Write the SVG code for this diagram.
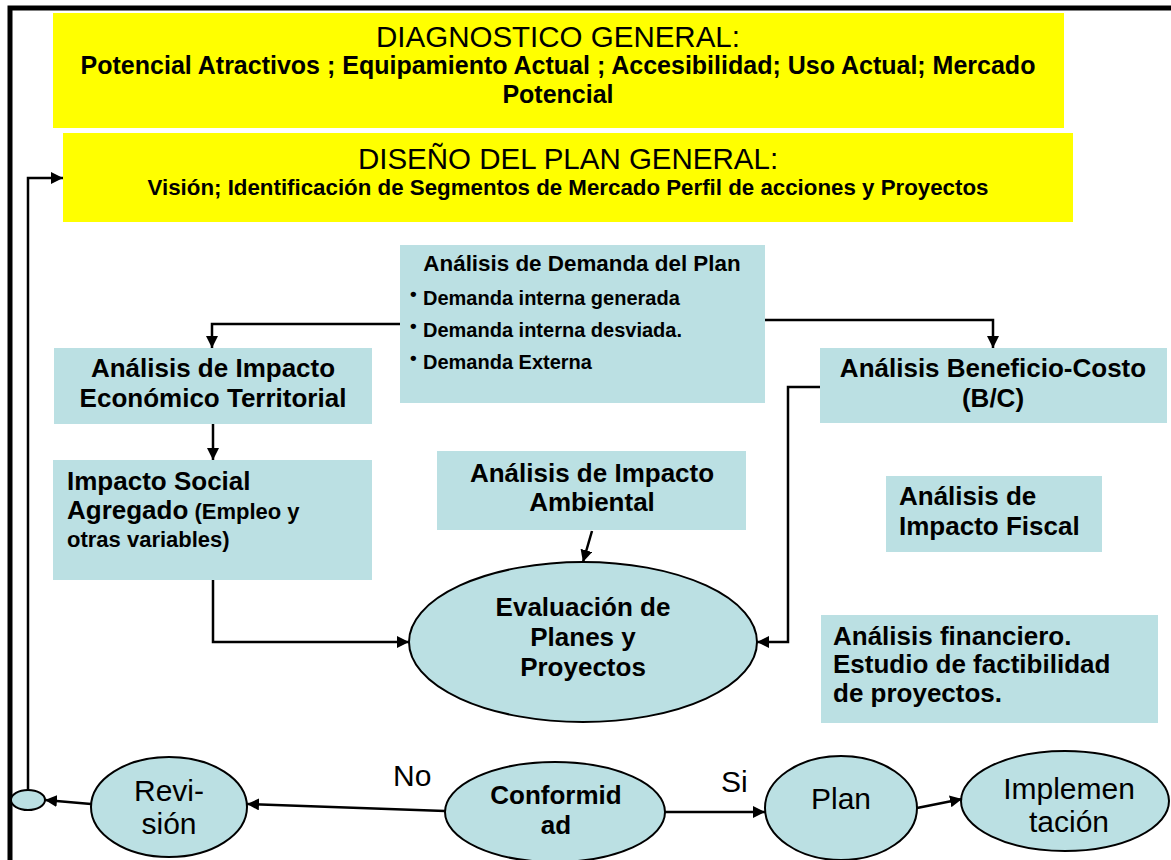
<svg xmlns="http://www.w3.org/2000/svg" width="1171" height="860" viewBox="0 0 1171 860">
<style>
text{font-family:"Liberation Sans",Arial,sans-serif;fill:#000}
.b{font-weight:bold}
.box{fill:#BBE0E3;stroke:none}
.ell{fill:#BBE0E3;stroke:#000;stroke-width:2}
.yel{fill:#FFFF00;stroke:none}
.c{fill:none;stroke:#000;stroke-width:2.5}
.m{text-anchor:middle}
</style>
<defs>
<marker id="ah" viewBox="0 0 10 10" refX="10" refY="5" markerWidth="12" markerHeight="12" markerUnits="userSpaceOnUse" orient="auto">
<path d="M0,0 L10,5 L0,10 z" fill="#000"/>
</marker>
</defs>
<rect x="10" y="8" width="1200" height="900" fill="#fff" stroke="#000" stroke-width="5"/>

<g id="diagnostico">
<rect class="yel" x="53" y="13" width="1011" height="115"/>
<text class="m" x="558" y="47" font-size="29.5">DIAGNOSTICO GENERAL:</text>
<text class="m b" x="558" y="74" font-size="25">Potencial Atractivos ; Equipamiento Actual ; Accesibilidad; Uso Actual; Mercado</text>
<text class="m b" x="558" y="103" font-size="25">Potencial</text>
</g>

<g id="diseno">
<rect class="yel" x="63" y="133" width="1010" height="89"/>
<text class="m" x="568" y="169" font-size="29.5">DISEÑO DEL PLAN GENERAL:</text>
<text class="m b" x="568" y="195" font-size="22.3">Visión; Identificación de Segmentos de Mercado Perfil de acciones y Proyectos</text>
</g>

<g id="demanda">
<rect class="box" x="400" y="245" width="365" height="158"/>
<text class="m b" x="582" y="271" font-size="22.4">Análisis de Demanda del Plan</text>
<text class="b" x="410" y="300" font-size="19">•</text>
<text class="b" x="423" y="305" font-size="20">Demanda interna generada</text>
<text class="b" x="410" y="332" font-size="19">•</text>
<text class="b" x="423" y="337" font-size="20">Demanda interna desviada.</text>
<text class="b" x="410" y="364" font-size="19">•</text>
<text class="b" x="423" y="369" font-size="20">Demanda Externa</text>
</g>

<g id="economico">
<rect class="box" x="54" y="348" width="318" height="76"/>
<text class="m b" x="213" y="377" font-size="26">Análisis de Impacto</text>
<text class="m b" x="213" y="407" font-size="26">Económico Territorial</text>
</g>

<g id="social">
<rect class="box" x="53" y="460" width="319" height="120"/>
<text class="b" x="67" y="490" font-size="26">Impacto Social</text>
<text class="b" x="67" y="519" font-size="26">Agregado<tspan font-size="22"> (Empleo y</tspan></text>
<text class="b" x="67" y="547" font-size="22">otras variables)</text>
</g>

<g id="ambiental">
<rect class="box" x="437" y="451" width="309" height="79"/>
<text class="m b" x="592" y="482" font-size="26">Análisis de Impacto</text>
<text class="m b" x="592" y="511" font-size="26">Ambiental</text>
</g>

<g id="beneficio">
<rect class="box" x="820" y="348" width="347" height="75"/>
<text class="m b" x="993" y="377" font-size="26">Análisis Beneficio-Costo</text>
<text class="m b" x="993" y="407" font-size="26">(B/C)</text>
</g>

<g id="fiscal">
<rect class="box" x="886" y="476" width="216" height="76"/>
<text class="b" x="899" y="505" font-size="26">Análisis de</text>
<text class="b" x="899" y="535" font-size="26">Impacto Fiscal</text>
</g>

<g id="financiero">
<rect class="box" x="821" y="615" width="337" height="108"/>
<text class="b" x="833" y="645" font-size="26">Análisis financiero.</text>
<text class="b" x="833" y="673" font-size="26">Estudio de factibilidad</text>
<text class="b" x="833" y="702" font-size="26">de proyectos.</text>
</g>

<g id="evaluacion">
<ellipse class="ell" cx="583" cy="642" rx="174" ry="80"/>
<text class="m b" x="583" y="616" font-size="26">Evaluación de</text>
<text class="m b" x="583" y="646" font-size="26">Planes y</text>
<text class="m b" x="583" y="676" font-size="26">Proyectos</text>
</g>

<g id="nodo">
<ellipse class="ell" cx="28" cy="800" rx="17" ry="10"/>
</g>

<g id="revision">
<ellipse class="ell" cx="169" cy="807" rx="78" ry="50"/>
<text class="m" x="169" y="801" font-size="30">Revi-</text>
<text class="m" x="169" y="834" font-size="30">sión</text>
</g>

<g id="conformidad">
<ellipse class="ell" cx="555" cy="812" rx="110" ry="50"/>
<text class="m b" x="556" y="804" font-size="26">Conformid</text>
<text class="m b" x="556" y="834" font-size="26">ad</text>
</g>

<g id="plan">
<ellipse class="ell" cx="841" cy="808" rx="76" ry="52"/>
<text class="m" x="841" y="809" font-size="30">Plan</text>
</g>

<g id="implementacion">
<ellipse class="ell" cx="1065" cy="801" rx="104" ry="50"/>
<text class="m" x="1069" y="799" font-size="30">Implemen</text>
<text class="m" x="1069" y="832" font-size="30">tación</text>
</g>

<g id="connectors">
<polyline class="c" points="28,790 28,178 63,178" marker-end="url(#ah)"/>
<polyline class="c" points="400,324 212,324 212,348" marker-end="url(#ah)"/>
<polyline class="c" points="765,320 993,320 993,348" marker-end="url(#ah)"/>
<line class="c" x1="213" y1="424" x2="213" y2="460" marker-end="url(#ah)"/>
<polyline class="c" points="213,580 213,642 409,642" marker-end="url(#ah)"/>
<line class="c" x1="592" y1="531" x2="583" y2="562" marker-end="url(#ah)"/>
<polyline class="c" points="820,387 788,387 788,642 757,642" marker-end="url(#ah)"/>
<line class="c" x1="445" y1="811" x2="247" y2="804" marker-end="url(#ah)"/>
<line class="c" x1="91" y1="804" x2="45" y2="800" marker-end="url(#ah)"/>
<line class="c" x1="665" y1="812" x2="765" y2="812" marker-end="url(#ah)"/>
<line class="c" x1="917" y1="808" x2="962" y2="799" marker-end="url(#ah)"/>
<text x="393" y="786" font-size="30">No</text>
<text x="721" y="792" font-size="30">Si</text>
</g>
</svg>
